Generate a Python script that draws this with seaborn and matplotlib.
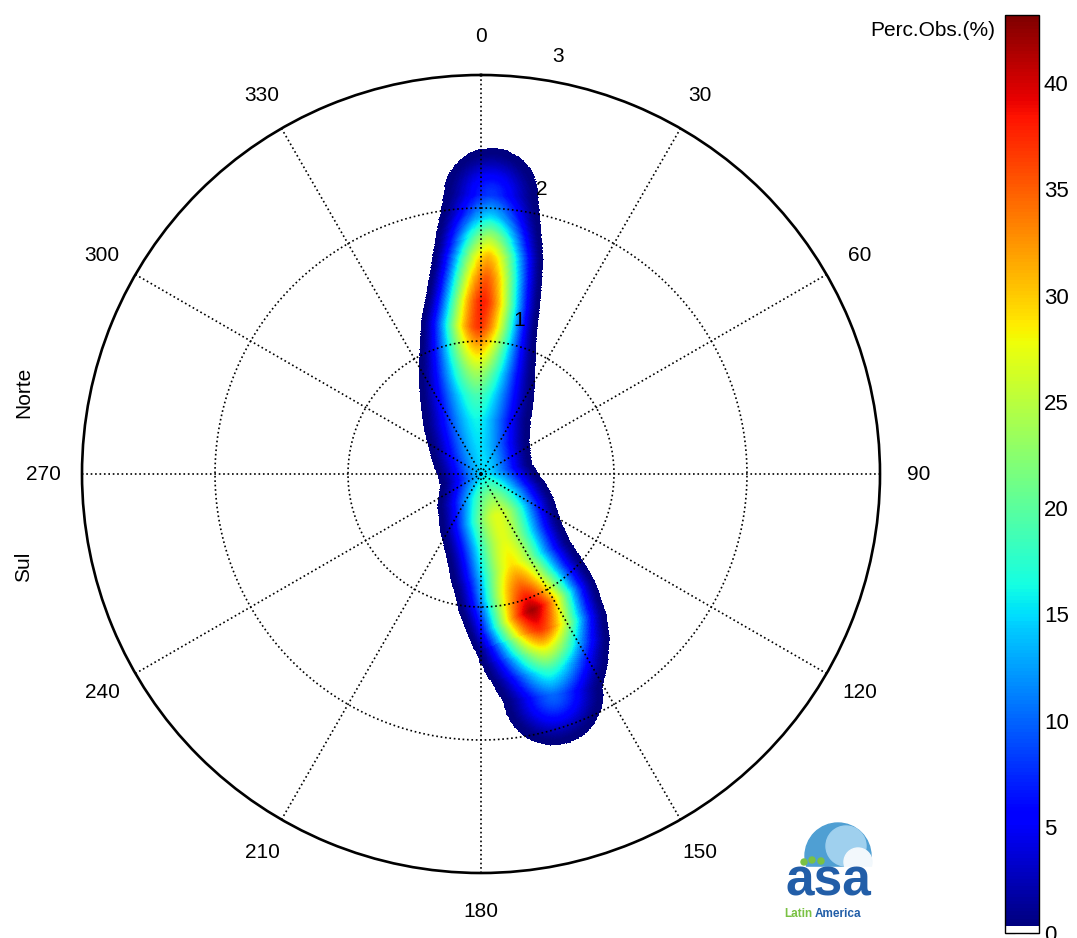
import numpy as np
import matplotlib
matplotlib.use("Agg")
import matplotlib.pyplot as plt
from matplotlib.colors import ListedColormap, Normalize
from matplotlib.patches import Circle, Rectangle
import seaborn as sns

# ---------------- data ----------------
# ridge of the observation-density cloud, as east / north components
# (speed units), with the peak percentage and the half-width of the cloud
ridge_east = [0.075, 0.068, 0.060, 0.053, 0.038, 0.015, -0.015, -0.023,
              -0.030, -0.030, -0.030, -0.008, 0.038, 0.075, 0.120, 0.173,
              0.233, 0.301, 0.383, 0.444, 0.481, 0.511, 0.541]
ridge_north = [2.098, 1.932, 1.782, 1.632, 1.481, 1.293, 1.105, 0.955,
               0.767, 0.594, 0.406, 0.203, 0.000, -0.158, -0.308, -0.496,
               -0.684, -0.850, -1.023, -1.173, -1.323, -1.474, -1.662]
ridge_pct = [8, 15, 24, 31, 35, 38, 37, 31,
             24, 19, 16, 15, 15, 22, 27, 27,
             29, 35, 42, 37, 27, 18, 10]
ridge_halfwidth = [0.353, 0.376, 0.398, 0.414, 0.421, 0.429, 0.436, 0.436,
                   0.436, 0.429, 0.406, 0.376, 0.353, 0.414, 0.444, 0.451,
                   0.474, 0.504, 0.519, 0.511, 0.496, 0.451, 0.376]

angle_ticks = list(range(0, 360, 30))
radial_ticks = [1, 2, 3]
radial_label_dir = [14, 12, 10.5]
cbar_ticks = [0, 5, 10, 15, 20, 25, 30, 35, 40]
cbar_max = 43.2
r_max = 3

# ---------------- style ----------------
sns.set_style("white")
plt.rcParams['font.family'] = ['Liberation Sans', 'DejaVu Sans']
plt.rcParams['text.color'] = 'black'
plt.rcParams['xtick.color'] = 'black'
plt.rcParams['ytick.color'] = 'black'

fig = plt.figure(figsize=(10.77, 9.38), dpi=100)
W, H = 1077, 938

# polar axes: centre (481,474) px, radius 399 px
ax = fig.add_axes([82 / W, (H - 474 - 399) / H, 798 / W, 798 / H], projection='polar')
ax.set_theta_zero_location('N')
ax.set_theta_direction(-1)

# ---------------- density field ----------------
th_edges = np.linspace(0, 2 * np.pi, 1441)
r_edges = np.linspace(0, r_max, 451)
th_c = 0.5 * (th_edges[:-1] + th_edges[1:])
r_c = 0.5 * (r_edges[:-1] + r_edges[1:])
TT, RR = np.meshgrid(th_c, r_c)
PX, PY = RR * np.sin(TT), RR * np.cos(TT)

cx = np.array(ridge_east)
cy = np.array(ridge_north)
seg = np.hypot(np.diff(cx), np.diff(cy))
cum = np.concatenate([[0], np.cumsum(seg)])

best_d = np.full(PX.shape, np.inf)
best_s = np.zeros(PX.shape)
for i in range(len(cx) - 1):
    dx, dy = cx[i + 1] - cx[i], cy[i + 1] - cy[i]
    L2 = dx * dx + dy * dy
    t = np.clip(((PX - cx[i]) * dx + (PY - cy[i]) * dy) / L2, 0, 1)
    d = np.hypot(PX - (cx[i] + t * dx), PY - (cy[i] + t * dy))
    s = cum[i] + t * np.sqrt(L2)
    m = d < best_d
    best_d[m] = d[m]
    best_s[m] = s[m]

I = np.interp(best_s, cum, ridge_pct)
Wd = np.interp(best_s, cum, ridge_halfwidth)
u = best_d / Wd
Z = I * np.clip(1 - np.clip(u, 0, 1) ** 1.7, 0, None) ** 1.75
Z = np.maximum(Z, 0.4)
Z = np.ma.masked_where(u >= 1, Z)

jet = plt.get_cmap('jet')(np.linspace(0, 1, 254))
cmap = ListedColormap(np.vstack([[[1, 1, 1, 1]] * 2, jet]))
cmap.set_bad((1, 1, 1, 0))
norm = Normalize(vmin=0, vmax=cbar_max)

mesh = ax.pcolormesh(th_edges, r_edges, Z, cmap=cmap, norm=norm,
                     shading='flat', antialiased=False, zorder=1)

# ---------------- grid ----------------
ax.grid(False)
ax.set_xticks([])
ax.set_yticks([])
ax.set_ylim(0, r_max)
circ_t = np.linspace(0, 2 * np.pi, 721)
for rr in radial_ticks[:-1]:
    ax.plot(circ_t, np.full_like(circ_t, rr), ls=':', color='k', lw=1.2, zorder=3)
for a in angle_ticks:
    ax.plot([np.deg2rad(a)] * 2, [0, r_max], ls=':', color='k', lw=1.2, zorder=3)
ax.spines['polar'].set_linewidth(1.9)
ax.spines['polar'].set_color('k')

for a in angle_ticks:
    ax.text(np.deg2rad(a), 3.29, str(a), ha='center', va='center',
            fontsize=15, color='k', clip_on=False)
for rr, dd in zip(radial_ticks, radial_label_dir):
    ax.text(np.deg2rad(dd), rr + 0.19, str(rr), ha='center', va='center',
            fontsize=15, color='k', clip_on=False, zorder=4)

# ---------------- colorbar ----------------
cax = fig.add_axes([1005 / W, (H - 933) / H, 34 / W, 918 / H])
cb = fig.colorbar(mesh, cax=cax, ticks=cbar_ticks)
cb.outline.set_linewidth(1.0)
cb.outline.set_edgecolor('k')
cax.tick_params(labelsize=16, direction='in', length=7, width=0.8,
                left=True, right=True, colors='k', labelcolor='k')
fig.text(995 / W, 1 - 30 / H, 'Perc.Obs.(%)', ha='right', va='center',
         fontsize=15, color='k')

# side labels
fig.text(24 / W, 1 - 392 / H, 'Norte', rotation=90, ha='center', va='center',
         fontsize=15, color='k')
fig.text(24 / W, 1 - 567 / H, 'Sul', rotation=90, ha='center', va='center',
         fontsize=15, color='k')

# ---------------- logo ----------------
lax = fig.add_axes([0, 0, 1, 1], zorder=5)
lax.set_xlim(0, W)
lax.set_ylim(H, 0)
lax.axis('off')
lax.patch.set_alpha(0)
lax.add_patch(Circle((838, 856), 33, color='#4f9fd3', zorder=1))
lax.add_patch(Circle((846, 846), 20, color='#9fd0ee', zorder=1.1))
lax.add_patch(Circle((858, 862), 14, color='#f2f8fc', zorder=1.2))
lax.add_patch(Rectangle((800, 867), 80, 30, color='white', zorder=2))
for (gx, gy) in [(804, 862), (812, 860), (821, 861)]:
    lax.add_patch(Circle((gx, gy), 3.0, color='#7ac143', zorder=3))
lax.text(828, 895, 'asa', ha='center', va='baseline', fontsize=37,
         color='#225ea8', fontweight='bold', zorder=4)
lax.text(812, 914, 'Latin', ha='right', va='center', fontsize=8.5,
         color='#7ac143', fontweight='bold', zorder=4)
lax.text(815, 914, 'America', ha='left', va='center', fontsize=8.5,
         color='#225ea8', fontweight='bold', zorder=4)

fig.savefig('out.png', dpi=100)
